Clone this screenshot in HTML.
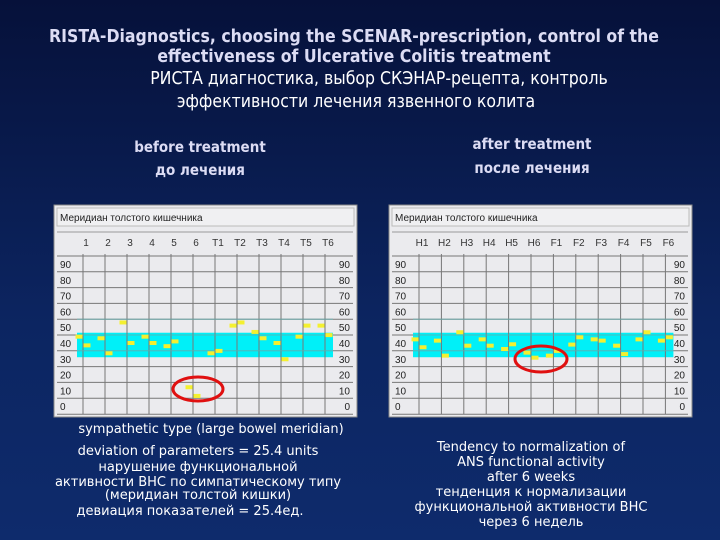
<!DOCTYPE html>
<html><head><meta charset="utf-8"><style>
body{margin:0;width:720px;height:540px;overflow:hidden;background:linear-gradient(#06113a,#0c2561 60%,#0e2b6c);font-family:"Liberation Sans","DejaVu Sans",sans-serif;}
svg{position:absolute;left:0;top:0}
</style></head><body>
<svg width="720" height="540">
<g fill="#dcdcf4" text-anchor="middle" font-family="'DejaVu Sans Condensed','DejaVu Sans',sans-serif">
<text x="354" y="42" font-size="17.5" font-weight="bold">RISTA-Diagnostics, choosing the SCENAR-prescription, control of the</text>
<text x="354" y="62" font-size="17.5" font-weight="bold">effectiveness of Ulcerative Colitis treatment</text>
<text x="379" y="84" font-size="17.5" fill="#fff">РИСТА диагностика, выбор  СКЭНАР-рецепта, контроль</text>
<text x="356" y="107" font-size="17.5" fill="#fff">эффективности лечения язвенного колита</text>
<text x="200" y="152" font-size="15" font-weight="bold">before treatment</text>
<text x="200" y="175" font-size="15" font-weight="bold">до лечения</text>
<text x="532" y="149" font-size="15" font-weight="bold">after treatment</text>
<text x="532" y="173" font-size="15" font-weight="bold">после лечения</text>
</g>
<g fill="#fff" text-anchor="middle" font-size="13" font-family="'DejaVu Sans',sans-serif">
<text x="211" y="433">sympathetic type (large bowel meridian)</text>
<text x="198" y="455">deviation of parameters = 25.4 units</text>
<text x="198" y="471">нарушение функциональной</text>
<text x="198" y="486">активности ВНС по симпатическому типу</text>
<text x="198" y="499">(меридиан толстой кишки)</text>
<text x="190" y="515">девиация показателей = 25.4ед.</text>
<text x="531" y="451">Tendency to normalization of</text>
<text x="531" y="466">ANS functional activity</text>
<text x="531" y="481">after 6 weeks</text>
<text x="531" y="496">тенденция к нормализации</text>
<text x="531" y="511">функциональной активности ВНС</text>
<text x="531" y="526">через 6 недель</text>
</g>
<g id="charts"></g>
</svg>
<script>
const yTicks=[90,80,70,60,50,40,30,20,10,0];
const leftCats=["1","2","3","4","5","6","Т1","Т2","Т3","Т4","Т5","Т6"];
const rightCats=["H1","H2","H3","H4","H5","H6","F1","F2","F3","F4","F5","F6"];
const leftVals=[44,38.5,43,33.5,53,40,44,40,38,41,12,6.5,33.5,35,51,53,47,43,40,29.7,44,51,51,45];
const rightVals=[42.3,37.3,41.5,32,46.8,38.3,42.3,38.3,36.2,39.2,33.9,30.7,32,35,39,43.6,42.3,41.5,38.3,33,42.3,46.8,41.5,43.6];
const bandLow=31, bandHigh=46.5;
const NS="http://www.w3.org/2000/svg";
const root=document.getElementById('charts');
function mk(tag,attrs,parent){const e=document.createElementNS(NS,tag);for(const k in attrs)e.setAttribute(k,attrs[k]);(parent||root).appendChild(e);return e;}
function yOf(v){return 343-(v-40)*1.58;}
function chart(px,x0,step,cats,vals,title,ell,nm){
  const g=mk('g',{});
  
  
  const xOf=i=>x0+i*step;
  const panel=mk('rect',{x:px,y:205,width:303,height:212,fill:'#ebebee',stroke:'#888'},g);
  
  
  mk('rect',{x:px+3,y:208,width:297,height:18,fill:'#f0f0f2',stroke:'#bbb'},g);
  const t=mk('text',{x:px+6,y:221,'font-size':10,fill:'#222'},g);t.textContent=title;
  
  
  const right=px+299, left=px+3;
  mk('line',{x1:left,x2:right,y1:232,y2:232,stroke:'#999'},g);
  cats.forEach((c,i)=>{const l=mk('text',{x:xOf(i)+3,y:246,'font-size':10,'text-anchor':'middle',fill:'#333'},g);l.textContent=c;
    
    });
  yTicks.forEach(v=>{const yc=yOf(v);
    mk('line',{x1:left,x2:right,y1:yc-8,y2:yc-8,stroke:'#777','stroke-width':1},g);
    const a=mk('text',{x:px+6,y:yc+4,'font-size':10,fill:'#222'},g);a.textContent=v;
    
    
    const b=mk('text',{x:right-3,y:yc+4,'font-size':10,fill:'#222','text-anchor':'end'},g);b.textContent=v;
    
    });
  mk('line',{x1:left,x2:right,y1:yOf(0)+8,y2:yOf(0)+8,stroke:'#777'},g);
  const band=mk('rect',{x:xOf(0)-6,y:yOf(bandHigh),width:xOf(11)-xOf(0)+14,height:yOf(bandLow)-yOf(bandHigh),fill:'#00f0f8'},g);
  
  
  cats.forEach((c,i)=>mk('line',{x1:xOf(i),x2:xOf(i),y1:254,y2:yOf(0)+8,stroke:'#777'},g));
  yTicks.forEach(v=>{if(v>=30&&v<=50)mk('line',{x1:xOf(0)-6,x2:xOf(11)+8,y1:yOf(v)-8,y2:yOf(v)-8,stroke:'#6aa',"stroke-width":0.8},g);});
  vals.forEach((v,k)=>{const i=Math.floor(k/2),off=k%2?4:-4;
    const p=mk('rect',{x:xOf(i)+off-3.5,y:yOf(v)-2,width:7,height:4,fill:'#f4f030'},g);
    
    });
  const e=mk('ellipse',{cx:ell[0],cy:ell[1],rx:ell[2],ry:ell[3],fill:'none',stroke:'#e01010','stroke-width':3},g);
  
  
}
chart(54,83,22,leftCats,leftVals,"Меридиан толстого кишечника",[198,389,25,12],'chart-before');
chart(389,419,22.4,rightCats,rightVals,"Меридиан толстого кишечника",[541,359,26,13],'chart-after');
</script>
</body></html>
